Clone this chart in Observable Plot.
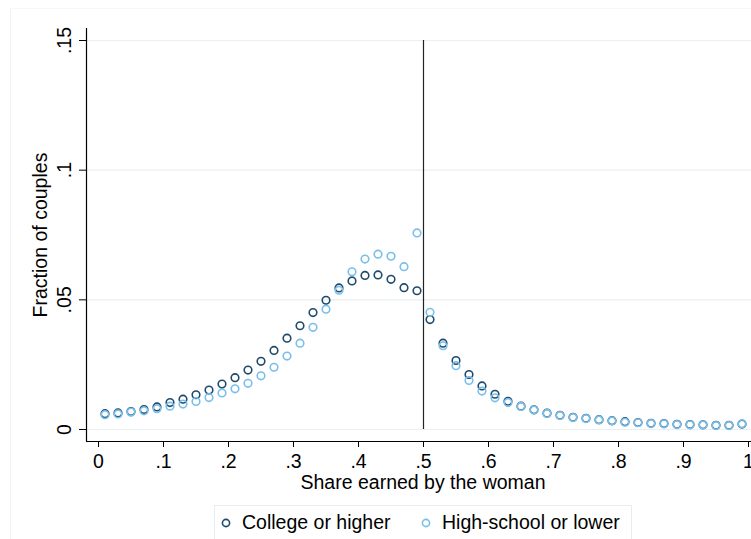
<!DOCTYPE html>
<html>
<head>
<meta charset="utf-8">
<script src="https://cdn.jsdelivr.net/npm/d3@7"></script>
<script src="https://cdn.jsdelivr.net/npm/@observablehq/plot@0.6"></script>
<style>
  html, body { margin: 0; padding: 0; background: #fff; }
  body { width: 751px; height: 539px; overflow: hidden; position: relative; font-family: "Liberation Sans", Arial, sans-serif; }
  #frame { position: absolute; left: 10px; top: 8px; width: 760px; height: 560px; border-left: 1px solid #eef3f5; border-top: 1px solid #f6f9fa; }
  #chart { position: absolute; left: 0; top: 0; }
  #legend { position: absolute; left: 214px; top: 505px; width: 418px; height: 50px; border: 1px solid #e6eef1; box-sizing: border-box; background: #fff; font-size: 19.5px; color: #000; }
  #legend .item { position: absolute; top: 5px; display: flex; align-items: center; }
  #legend svg { margin-right: 10px; }
</style>
</head>
<body>
<div id="frame"></div>
<div id="chart"></div>
<div id="legend"></div>
<script>
// Bin midpoints of the woman's share of earnings
const shares = [0.01,0.03,0.05,0.07,0.09,0.11,0.13,0.15,0.17,0.19,
                0.21,0.23,0.25,0.27,0.29,0.31,0.33,0.35,0.37,0.39,
                0.41,0.43,0.45,0.47,0.49,0.51,0.53,0.55,0.57,0.59,
                0.61,0.63,0.65,0.67,0.69,0.71,0.73,0.75,0.77,0.79,
                0.81,0.83,0.85,0.87,0.89,0.91,0.93,0.95,0.97,0.99];
const college = [0.0061,0.0064,0.0069,0.0077,0.0087,0.0104,0.0117,0.0134,0.0152,0.0175,
                 0.0200,0.0229,0.0263,0.0305,0.0352,0.0400,0.0451,0.0498,0.0546,0.0573,
                 0.0594,0.0596,0.0579,0.0547,0.0535,0.0424,0.0333,0.0266,0.0212,0.0168,
                 0.0136,0.0109,0.0090,0.0076,0.0063,0.0055,0.0047,0.0043,0.0038,0.0034,
                 0.0030,0.0027,0.0024,0.0023,0.0020,0.0019,0.0018,0.0016,0.0016,0.0021];
const highschool = [0.0057,0.0060,0.0067,0.0072,0.0080,0.0090,0.0098,0.0108,0.0123,0.0141,
                    0.0157,0.0178,0.0207,0.0240,0.0283,0.0333,0.0394,0.0464,0.0537,0.0608,
                    0.0657,0.0676,0.0668,0.0628,0.0758,0.0452,0.0323,0.0246,0.0189,0.0148,
                    0.0122,0.0104,0.0089,0.0075,0.0062,0.0054,0.0046,0.0042,0.0037,0.0033,
                    0.0028,0.0026,0.0023,0.0022,0.0019,0.0018,0.0017,0.0015,0.0015,0.0022];
const seriesNames = ["College or higher", "High-school or lower"];
const seriesColors = ["#1f4a6b", "#79bfeb"];
const xTicks = [0,0.1,0.2,0.3,0.4,0.5,0.6,0.7,0.8,0.9,1];
const xTickLabels = ["0",".1",".2",".3",".4",".5",".6",".7",".8",".9","1"];
const yTicks = [0,0.05,0.1,0.15];
const yTickLabels = ["0",".05",".1",".15"];
const threshold = [0.5];
const xTitle = "Share earned by the woman";
const yTitle = "Fraction of couples";

const rows = [];
shares.forEach((s, i) => {
  rows.push({share: s, value: college[i], group: seriesNames[0]});
});
shares.forEach((s, i) => {
  rows.push({share: s, value: highschool[i], group: seriesNames[1]});
});

const xDomain = [-12/650, 1 + 3/650];
const yDomain = [-12/2593, 0.15 + 12/2593];
const fmtX = d => xTickLabels[xTicks.indexOf(d)];
const fmtY = d => yTickLabels[yTicks.indexOf(d)];
const FS = 19.5;

const chart = Plot.plot({
  width: 751,
  height: 500,
  marginLeft: 86,
  marginRight: 0,
  marginTop: 28,
  marginBottom: 59,
  style: {fontFamily: "Liberation Sans, Arial, sans-serif", fontSize: FS + "px", color: "#000", background: "transparent", overflow: "visible"},
  x: {domain: xDomain},
  y: {domain: yDomain},
  color: {domain: seriesNames, range: seriesColors},
  marks: [
    Plot.ruleY(yTicks, {stroke: "#e8f0f2", strokeWidth: 1.2}),
    Plot.ruleX(threshold, {y1: 0, y2: 0.15, stroke: "#222", strokeWidth: 1.2}),
    Plot.ruleX([xDomain[0]], {stroke: "#000", strokeWidth: 1.2}),
    Plot.ruleY([yDomain[0]], {stroke: "#000", strokeWidth: 1.2}),
    Plot.axisX({ticks: xTicks, tickFormat: fmtX, tickSize: 6, tickPadding: 7, label: null, fontSize: FS}),
    Plot.axisY({ticks: yTicks, tickFormat: fmtY, tickSize: 7, tickRotate: -90, tickPadding: 9, label: null, fontSize: FS}),
    Plot.text([xTitle], {frameAnchor: "bottom", textAnchor: "middle", dx: 4, dy: 41, lineAnchor: "middle", fontSize: FS}),
    Plot.text([yTitle], {frameAnchor: "left", textAnchor: "middle", rotate: -90, dx: -46, lineAnchor: "middle", fontSize: FS}),
    Plot.dot(rows, {x: "share", y: "value", stroke: "group", r: 3.8, strokeWidth: 1.6, fill: "none"})
  ]
});
document.getElementById("chart").appendChild(chart);

// Legend
const legend = document.getElementById("legend");
const positions = [5, 205];
seriesNames.forEach((name, i) => {
  const item = document.createElement("div");
  item.className = "item";
  item.style.left = positions[i] + "px";
  item.innerHTML = `<svg width="12" height="12"><circle cx="6" cy="6" r="3.6" fill="none" stroke="${seriesColors[i]}" stroke-width="1.6"/></svg><span>${name}</span>`;
  legend.appendChild(item);
});
</script>
</body>
</html>
